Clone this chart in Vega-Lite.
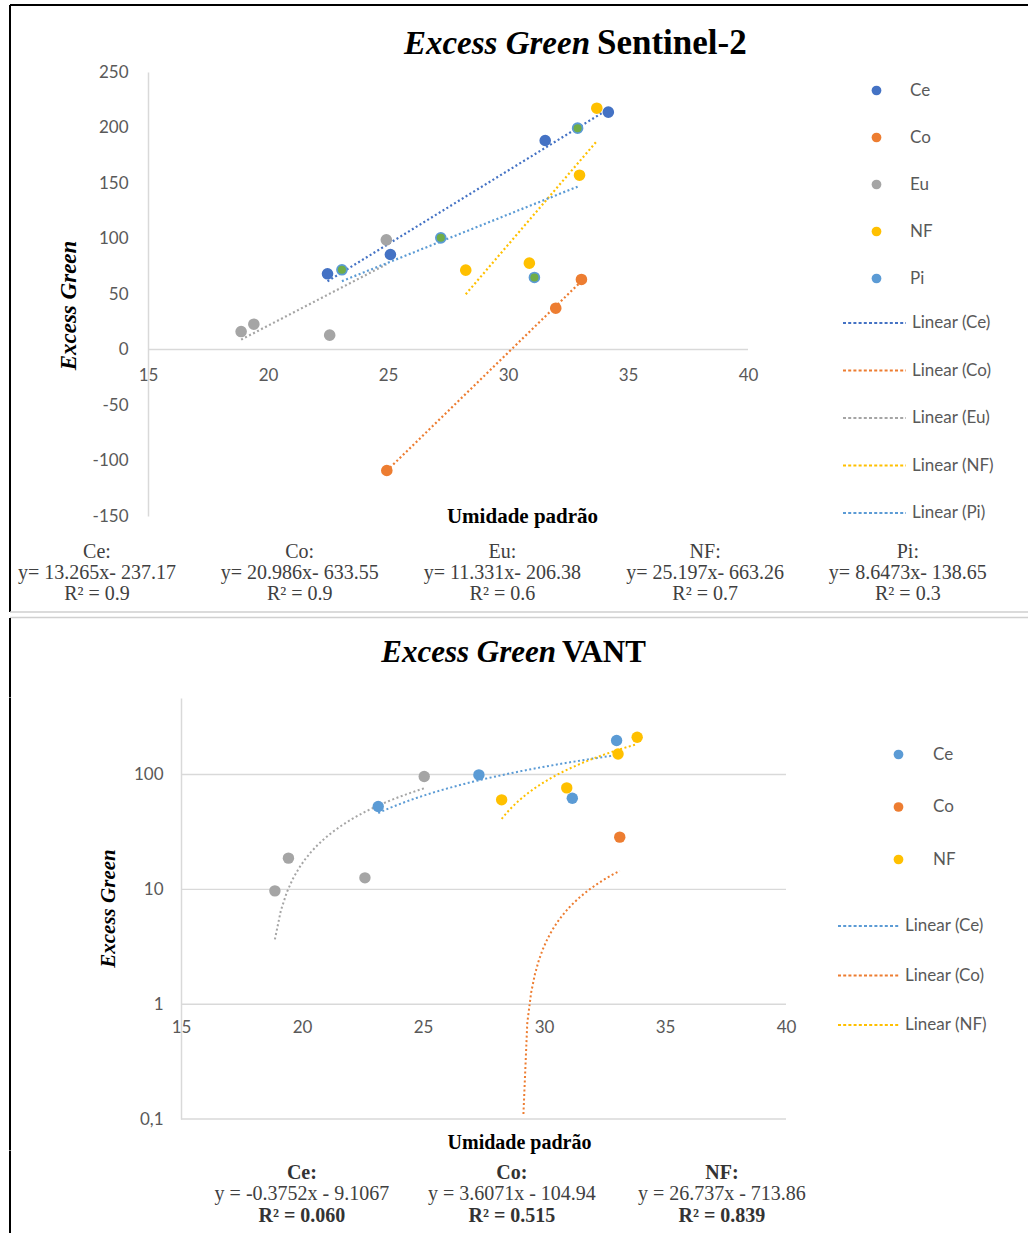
{
  "$schema": "https://vega.github.io/schema/vega-lite/v6.json",
  "background": "white",
  "padding": {"left": 9, "top": 4, "right": 5, "bottom": 5},
  "spacing": 0,
  "bounds": "flush",
  "resolve": {"scale": {"fill": "independent", "stroke": "independent"}},
  "config": {
    "view": {"stroke": null},
    "axis": {"labelFont": "Lato", "labelFontSize": 17, "labelColor": "#595959", "titleFont": "Liberation Serif", "titleFontWeight": "bold", "titleColor": "#000000", "domainColor": "#D9D9D9", "domainWidth": 1.5, "ticks": false, "tickSize": 0, "labelFlush": false},
    "legend": {"labelFont": "Lato", "labelFontSize": 17, "labelColor": "#595959", "padding": 0, "title": null}
  },
  "datasets": {
    "p1": [
      {"series": "Ce", "trend": "Linear (Ce)", "umidade": 22.48, "exg": 68.2},
      {"series": "Ce", "trend": "Linear (Ce)", "umidade": 25.1, "exg": 85.6},
      {"series": "Ce", "trend": "Linear (Ce)", "umidade": 31.55, "exg": 188.3},
      {"series": "Ce", "trend": "Linear (Ce)", "umidade": 34.18, "exg": 213.8},
      {"series": "Co", "trend": "Linear (Co)", "umidade": 24.95, "exg": -109},
      {"series": "Co", "trend": "Linear (Co)", "umidade": 31.99, "exg": 37.2},
      {"series": "Co", "trend": "Linear (Co)", "umidade": 33.06, "exg": 63.1},
      {"series": "Eu", "trend": "Linear (Eu)", "umidade": 18.88, "exg": 16.2},
      {"series": "Eu", "trend": "Linear (Eu)", "umidade": 19.41, "exg": 22.8},
      {"series": "Eu", "trend": "Linear (Eu)", "umidade": 22.57, "exg": 12.9},
      {"series": "Eu", "trend": "Linear (Eu)", "umidade": 24.93, "exg": 98.8},
      {"series": "NF", "trend": "Linear (NF)", "umidade": 28.24, "exg": 71.5},
      {"series": "NF", "trend": "Linear (NF)", "umidade": 30.89, "exg": 77.8},
      {"series": "NF", "trend": "Linear (NF)", "umidade": 32.98, "exg": 157},
      {"series": "NF", "trend": "Linear (NF)", "umidade": 33.7, "exg": 217.4},
      {"series": "Pi", "trend": "Linear (Pi)", "umidade": 23.08, "exg": 71.8},
      {"series": "Pi", "trend": "Linear (Pi)", "umidade": 27.2, "exg": 100.6},
      {"series": "Pi", "trend": "Linear (Pi)", "umidade": 31.1, "exg": 64.9},
      {"series": "Pi", "trend": "Linear (Pi)", "umidade": 32.9, "exg": 199.4}
    ],
    "p2": [
      {"series": "Ce", "trend": "Linear (Ce)", "umidade": 23.15, "exg": 52.7},
      {"series": "Ce", "trend": "Linear (Ce)", "umidade": 27.31, "exg": 99.3},
      {"series": "Ce", "trend": "Linear (Ce)", "umidade": 31.17, "exg": 62.2},
      {"series": "Ce", "trend": "Linear (Ce)", "umidade": 33.0, "exg": 197.7},
      {"series": "Co", "trend": "Linear (Co)", "umidade": 24.95, "exg": -12.8},
      {"series": "Co", "trend": "Linear (Co)", "umidade": 31.99, "exg": -5.9},
      {"series": "Co", "trend": "Linear (Co)", "umidade": 33.13, "exg": 28.5},
      {"series": "Eu", "trend": "Linear (Eu)", "umidade": 18.88, "exg": 9.7},
      {"series": "Eu", "trend": "Linear (Eu)", "umidade": 19.44, "exg": 18.7},
      {"series": "Eu", "trend": "Linear (Eu)", "umidade": 22.6, "exg": 12.6},
      {"series": "Eu", "trend": "Linear (Eu)", "umidade": 25.05, "exg": 96},
      {"series": "NF", "trend": "Linear (NF)", "umidade": 28.25, "exg": 60.2},
      {"series": "NF", "trend": "Linear (NF)", "umidade": 30.94, "exg": 76.5},
      {"series": "NF", "trend": "Linear (NF)", "umidade": 33.06, "exg": 151},
      {"series": "NF", "trend": "Linear (NF)", "umidade": 33.85, "exg": 211}
    ],
    "eq1": [
      {"col": "Ce", "line": 1, "text": "Ce:"},
      {"col": "Ce", "line": 2, "text": "y= 13.265x- 237.17"},
      {"col": "Ce", "line": 3, "text": "R² = 0.9"},
      {"col": "Co", "line": 1, "text": "Co:"},
      {"col": "Co", "line": 2, "text": "y= 20.986x- 633.55"},
      {"col": "Co", "line": 3, "text": "R² = 0.9"},
      {"col": "Eu", "line": 1, "text": "Eu:"},
      {"col": "Eu", "line": 2, "text": "y= 11.331x- 206.38"},
      {"col": "Eu", "line": 3, "text": "R² = 0.6"},
      {"col": "NF", "line": 1, "text": "NF:"},
      {"col": "NF", "line": 2, "text": "y= 25.197x- 663.26"},
      {"col": "NF", "line": 3, "text": "R² = 0.7"},
      {"col": "Pi", "line": 1, "text": "Pi:"},
      {"col": "Pi", "line": 2, "text": "y= 8.6473x- 138.65"},
      {"col": "Pi", "line": 3, "text": "R² = 0.3"}
    ],
    "eq2": [
      {"col": "Ce", "line": 1, "text": "Ce:"},
      {"col": "Ce", "line": 2, "text": "y = -0.3752x - 9.1067"},
      {"col": "Ce", "line": 3, "text": "R² = 0.060"},
      {"col": "Co", "line": 1, "text": "Co:"},
      {"col": "Co", "line": 2, "text": "y = 3.6071x - 104.94"},
      {"col": "Co", "line": 3, "text": "R² = 0.515"},
      {"col": "NF", "line": 1, "text": "NF:"},
      {"col": "NF", "line": 2, "text": "y = 26.737x - 713.86"},
      {"col": "NF", "line": 3, "text": "R² = 0.839"}
    ]
  },
  "vconcat": [
    {
      "width": 1020, "height": 67,
      "view": {"stroke": "#000000", "strokeWidth": 2, "strokeDash": [1020, 1087, 67, 0]},
      "data": {"values": [{}]},
      "layer": [
        {"mark": {"type": "text", "text": "Excess Green", "align": "right", "baseline": "alphabetic", "dx": 70, "dy": 15, "font": "Liberation Serif", "fontSize": 33, "fontWeight": "bold", "fontStyle": "italic", "color": "#000000"}, "encoding": {}},
        {"mark": {"type": "text", "text": "Sentinel-2", "align": "left", "baseline": "alphabetic", "dx": 77, "dy": 15, "font": "Liberation Serif", "fontSize": 35, "fontWeight": "bold", "color": "#000000"}, "encoding": {}}
      ]
    },
    {
      "width": 738, "height": 444,
      "view": {"stroke": "#000000", "strokeWidth": 2, "strokeDash": [0, 1920, 444, 0]},
      "layer": [
        {
          "data": {"values": [{}]},
          "mark": {"type": "rule", "color": "#D9D9D9", "strokeWidth": 1.5},
          "encoding": {"x": {"datum": 15, "type": "quantitative", "scale": {"domain": [9.25, 40], "nice": false, "zero": false}}, "x2": {"datum": 40}, "y": {"datum": 0, "type": "quantitative", "scale": {"domain": [-150, 250], "nice": false, "zero": false}}}
        },
        {
          "data": {"name": "p1"},
          "transform": [{"regression": "exg", "on": "umidade", "groupby": ["series", "trend"]}],
          "mark": {"type": "line", "strokeWidth": 2.2, "strokeDash": [2, 2.5]},
          "encoding": {
            "x": {"field": "umidade", "type": "quantitative", "scale": {"domain": [9.25, 40], "nice": false, "zero": false}},
            "y": {"field": "exg", "type": "quantitative", "scale": {"domain": [-150, 250], "nice": false, "zero": false}},
            "stroke": {"field": "trend", "type": "nominal",
              "scale": {"domain": ["Linear (Ce)", "Linear (Co)", "Linear (Eu)", "Linear (NF)", "Linear (Pi)"], "range": ["#4472C4", "#ED7D31", "#A5A5A5", "#FFC000", "#5B9BD5"]},
              "legend": {"orient": "none", "legendX": 832, "legendY": 218.5, "rowPadding": 6.5, "labelOffset": 5, "symbolType": "stroke", "symbolSize": 3969, "symbolStrokeWidth": 2, "symbolDash": [3, 2.2]}}
          }
        },
        {
          "data": {"name": "p1"},
          "mark": {"type": "point", "filled": true, "size": 135, "opacity": 1},
          "encoding": {
            "x": {"field": "umidade", "type": "quantitative", "scale": {"domain": [9.25, 40], "nice": false, "zero": false},
                  "axis": {"values": [15, 20, 25, 30, 35, 40], "grid": false, "domain": false, "offset": -166.5, "labelPadding": 18, "title": "Umidade padrão", "titleFontSize": 21, "titleX": 512, "titleY": 156}},
            "y": {"field": "exg", "type": "quantitative", "scale": {"domain": [-150, 250], "nice": false, "zero": false},
                  "axis": {"values": [-150, -100, -50, 0, 50, 100, 150, 200, 250], "grid": false, "offset": -138, "labelPadding": 20, "labelExpr": "replace(datum.label, '−', '-')", "title": "Excess Green", "titleFontSize": 23, "titleFontStyle": "italic", "titleX": -80, "titleY": 233, "titleBaseline": "middle"}},
            "fill": {"field": "series", "type": "nominal",
              "scale": {"domain": ["Ce", "Co", "Eu", "NF", "Pi"], "range": ["#4472C4", "#ED7D31", "#A5A5A5", "#FFC000", "#5B9BD5"]},
              "legend": {"orient": "none", "legendX": 858, "legendY": 10, "rowPadding": 29, "labelOffset": 25, "symbolType": "circle", "symbolSize": 95}}
          }
        },
        {
          "data": {"name": "p1"},
          "transform": [{"filter": "datum.series == 'Pi'"}],
          "mark": {"type": "point", "filled": true, "size": 65, "opacity": 1, "color": "#70AD47"},
          "encoding": {
            "x": {"field": "umidade", "type": "quantitative", "scale": {"domain": [9.25, 40], "nice": false, "zero": false}},
            "y": {"field": "exg", "type": "quantitative", "scale": {"domain": [-150, 250], "nice": false, "zero": false}}
          }
        }
      ]
    },
    {"width": 1, "height": 15, "view": {"stroke": "#000000", "strokeWidth": 2, "strokeDash": [0, 17, 15, 0]}, "data": {"values": []}, "mark": "point"},
    {
      "width": 1018, "height": 81,
      "view": {"stroke": "#000000", "strokeWidth": 2, "strokeDash": [0, 2117, 81, 0]},
      "data": {"name": "eq1"},
      "encoding": {
        "x": {"field": "col", "type": "ordinal", "axis": null, "scale": {"type": "point", "domain": ["Ce", "Co", "Eu", "NF", "Pi"], "padding": 0.511, "align": 0.42}},
        "y": {"field": "line", "type": "ordinal", "axis": null, "scale": {"type": "point", "domain": [1, 2, 3], "padding": 0.929, "align": 0.538}},
        "text": {"field": "text"}
      },
      "mark": {"type": "text", "font": "Liberation Serif", "fontSize": 20, "color": "#404040"}
    },
    {"width": 1018, "height": 5.6, "view": {"stroke": "#D0D0D0", "strokeWidth": 1.5, "strokeDash": [1018, 5.6, 1018, 5.6]}, "data": {"values": []}, "mark": "point"},
    {
      "width": 1010, "height": 79.4,
      "view": {"stroke": "#000000", "strokeWidth": 2, "strokeDash": [0, 2099.4, 79.4, 0]},
      "data": {"values": [{}]},
      "layer": [
        {"mark": {"type": "text", "text": "Excess Green", "align": "right", "baseline": "alphabetic", "dx": 41, "dy": 4.7, "font": "Liberation Serif", "fontSize": 31, "fontWeight": "bold", "fontStyle": "italic", "color": "#000000"}, "encoding": {}},
        {"mark": {"type": "text", "text": "VANT", "align": "left", "baseline": "alphabetic", "dx": 47, "dy": 4.7, "font": "Liberation Serif", "fontSize": 31, "fontWeight": "bold", "color": "#000000"}, "encoding": {}}
      ]
    },
    {
      "width": 776, "height": 421,
      "view": {"stroke": "#000000", "strokeWidth": 2, "strokeDash": [0, 1973, 421, 0]},
      "layer": [
        {
          "data": {"values": [{"g": 0.1}, {"g": 1}, {"g": 10}, {"g": 100}]},
          "mark": {"type": "rule", "color": "#D9D9D9", "strokeWidth": 1.4},
          "encoding": {"x": {"datum": 15, "type": "quantitative", "scale": {"domain": [7.934, 40], "nice": false, "zero": false}}, "x2": {"datum": 40}, "y": {"field": "g", "type": "quantitative", "scale": {"type": "log", "domain": [0.1, 464], "nice": false}}}
        },
        {
          "data": {"name": "p2"},
          "transform": [{"filter": "datum.series != 'Co'"}, {"regression": "exg", "on": "umidade", "groupby": ["series", "trend"], "method": "poly", "order": 1}],
          "mark": {"type": "line", "strokeWidth": 2, "strokeDash": [2, 2.5]},
          "encoding": {
            "x": {"field": "umidade", "type": "quantitative", "scale": {"domain": [7.934, 40], "nice": false, "zero": false}},
            "y": {"field": "exg", "type": "quantitative", "scale": {"type": "log", "domain": [0.1, 464], "nice": false}},
            "stroke": {"field": "trend", "type": "nominal",
              "scale": {"domain": ["Linear (Ce)", "Linear (Co)", "Linear (Eu)", "Linear (NF)"], "range": ["#5B9BD5", "#ED7D31", "#A5A5A5", "#FFC000"]},
              "legend": {"orient": "none", "values": ["Linear (Ce)", "Linear (Co)", "Linear (NF)"], "legendX": 827, "legendY": 196, "rowPadding": 9.5, "labelOffset": 4, "symbolType": "stroke", "symbolSize": 3844, "symbolStrokeWidth": 2, "symbolDash": [3, 2.2]}}
          }
        },
        {
          "data": {"name": "p2"},
          "transform": [{"filter": "datum.series == 'Co'"}, {"regression": "exg", "on": "umidade", "groupby": ["series", "trend"], "method": "poly", "order": 1, "extent": [29.15, 33.13]}, {"filter": "datum.exg >= 0.1"}],
          "mark": {"type": "line", "strokeWidth": 2, "strokeDash": [2, 2.5]},
          "encoding": {
            "x": {"field": "umidade", "type": "quantitative", "scale": {"domain": [7.934, 40], "nice": false, "zero": false}},
            "y": {"field": "exg", "type": "quantitative", "scale": {"type": "log", "domain": [0.1, 464], "nice": false}},
            "stroke": {"field": "trend", "type": "nominal",
              "scale": {"domain": ["Linear (Ce)", "Linear (Co)", "Linear (Eu)", "Linear (NF)"], "range": ["#5B9BD5", "#ED7D31", "#A5A5A5", "#FFC000"]}}
          }
        },
        {
          "data": {"name": "p2"},
          "transform": [{"filter": "datum.exg > 0"}],
          "mark": {"type": "point", "filled": true, "size": 130, "opacity": 1},
          "encoding": {
            "x": {"field": "umidade", "type": "quantitative", "scale": {"domain": [7.934, 40], "nice": false, "zero": false},
                  "axis": {"values": [15, 20, 25, 30, 35, 40], "grid": false, "domain": false, "offset": -114.8, "labelPadding": 15, "title": "Umidade padrão", "titleFontSize": 20, "titleX": 509, "titleY": 128}},
            "y": {"field": "exg", "type": "quantitative", "scale": {"type": "log", "domain": [0.1, 464], "nice": false},
                  "axis": {"values": [0.1, 1, 10, 100], "format": "~g", "labelExpr": "replace(datum.label, '.', ',')", "grid": false, "offset": -171, "labelPadding": 18, "title": "Excess Green", "titleFontSize": 21, "titleFontStyle": "italic", "titleX": -73, "titleY": 210, "titleBaseline": "middle"}},
            "fill": {"field": "series", "type": "nominal",
              "scale": {"domain": ["Ce", "Co", "Eu", "NF"], "range": ["#5B9BD5", "#ED7D31", "#A5A5A5", "#FFC000"]},
              "legend": {"orient": "none", "values": ["Ce", "Co", "NF"], "legendX": 880, "legendY": 48, "rowPadding": 34.5, "labelOffset": 26, "symbolType": "circle", "symbolSize": 95}}
          }
        }
      ]
    },
    {"width": 1, "height": 31.5, "view": {"stroke": "#000000", "strokeWidth": 2, "strokeDash": [0, 33.5, 31.5, 0]}, "data": {"values": []}, "mark": "point"},
    {
      "width": 840, "height": 86,
      "view": {"stroke": "#000000", "strokeWidth": 2, "strokeDash": [0, 1766, 86, 0]},
      "data": {"name": "eq2"},
      "encoding": {
        "x": {"field": "col", "type": "ordinal", "axis": null, "scale": {"type": "point", "domain": ["Ce", "Co", "NF"], "padding": 1, "align": 0.695}},
        "y": {"field": "line", "type": "ordinal", "axis": null, "scale": {"type": "point", "domain": [1, 2, 3], "padding": 1}},
        "text": {"field": "text"}
      },
      "layer": [
        {"transform": [{"filter": "datum.line != 2"}], "mark": {"type": "text", "font": "Liberation Serif", "fontSize": 20, "fontWeight": "bold", "color": "#333333"}},
        {"transform": [{"filter": "datum.line == 2"}], "mark": {"type": "text", "font": "Liberation Serif", "fontSize": 20, "color": "#404040"}}
      ]
    }
  ]
}
